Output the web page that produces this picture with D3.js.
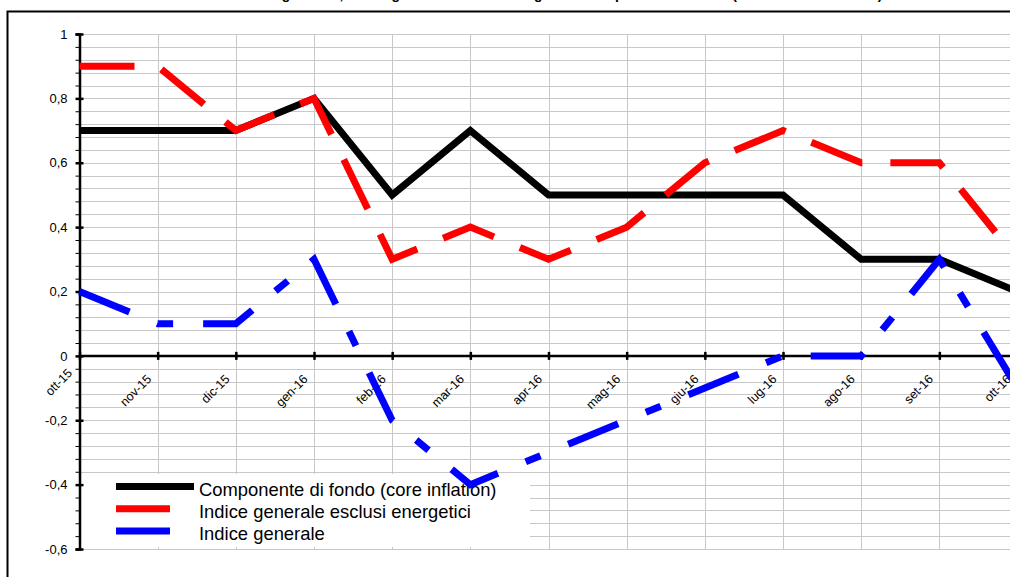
<!DOCTYPE html>
<html>
<head>
<meta charset="utf-8">
<script src="https://cdn.jsdelivr.net/npm/d3@7"></script>
<style>
  html, body { margin: 0; padding: 0; background: #fff; }
  svg { display: block; font-family: "Liberation Sans", Arial, sans-serif; }
</style>
</head>
<body>
<script>
// ---- data ----
const categories = ["ott-15","nov-15","dic-15","gen-16","feb-16","mar-16","apr-16","mag-16","giu-16","lug-16","ago-16","set-16","ott-16"];
const coreValues     = [0.7, 0.7, 0.7, 0.8, 0.5, 0.7, 0.5, 0.5, 0.5, 0.5, 0.3, 0.3, 0.2];
const exEnergyValues = [0.9, 0.9, 0.7, 0.8, 0.3, 0.4, 0.3, 0.4, 0.6, 0.7, 0.6, 0.6, 0.3];
const generalValues  = [0.2, 0.1, 0.1, 0.3, -0.2, -0.4, -0.3, -0.2, -0.1, 0.0, 0.0, 0.3, -0.1];
const seriesNames = ["Componente di fondo (core inflation)", "Indice generale esclusi energetici", "Indice generale"];
const yMajorTicks = [-0.6, -0.4, -0.2, 0, 0.2, 0.4, 0.6, 0.8, 1];
const titleText = "Indice generale, indice generale esclusi energetici e componente di fondo (variazioni tendenziali)";

const W = 1010, H = 577;
const svg = d3.select("body").append("svg").attr("width", W).attr("height", H);

const x = d3.scalePoint().domain(categories).range([79.5, 1017.5]);
const y = d3.scaleLinear().domain([-0.6, 1]).range([549, 34]);

const itLocale = d3.formatLocale({decimal: ",", thousands: ".", grouping: [3], currency: ["", ""], minus: "-"});
const fmt = itLocale.format("~g");

// title (mostly cut off at the top, as in the reference)
svg.append("text").attr("x", 560).attr("y", -1).attr("text-anchor", "middle")
  .attr("font-size", 14).attr("font-weight", "bold").text(titleText);

// outer frame
svg.append("rect").attr("x", 7.5).attr("y", 11.5).attr("width", 1100).attr("height", 700)
  .attr("fill", "none").attr("stroke", "#000").attr("stroke-width", 2);

// gridlines
const minor = d3.range(0, 41).map(i => +(-0.6 + i * 0.04).toFixed(2));
const grid = svg.append("g");
grid.selectAll("line.h").data(minor).join("line").attr("class", "h")
  .attr("x1", 79.5).attr("x2", W)
  .attr("y1", d => Math.round(y(d)) + 0.5).attr("y2", d => Math.round(y(d)) + 0.5)
  .attr("stroke", "#c8c8c8").attr("stroke-width", 1);
grid.selectAll("line.v").data(categories.slice(1)).join("line").attr("class", "v")
  .attr("x1", d => Math.round(x(d)) + 0.5).attr("x2", d => Math.round(x(d)) + 0.5)
  .attr("y1", y(1)).attr("y2", y(-0.6))
  .attr("stroke", "#c8c8c8").attr("stroke-width", 1);

// legend (drawn beneath the series)
const legend = svg.append("g");
legend.append("rect").attr("x", 81).attr("y", 474).attr("width", 449).attr("height", 73).attr("fill", "#fff");
const legColors = ["#000", "#ff0000", "#0000ff"];
const legLen = [78, 54, 54];
seriesNames.forEach((name, i) => {
  const cy = 486.5 + i * 22.3;
  legend.append("line").attr("x1", 116).attr("x2", 116 + legLen[i]).attr("y1", cy).attr("y2", cy)
    .attr("stroke", legColors[i]).attr("stroke-width", 7);
  legend.append("text").attr("x", 199).attr("y", 496 + i * 22).attr("font-size", 18.4).attr("fill", "#000").text(name);
});

// y axis
const yAxis = svg.append("g").attr("transform", "translate(79.5,0)")
  .call(d3.axisLeft(y).tickValues(yMajorTicks).tickSizeOuter(0).tickSize(4).tickPadding(8).tickFormat(fmt));
yAxis.select(".domain").attr("stroke", "#000").attr("stroke-width", 2.5);
yAxis.selectAll(".tick line").attr("x1", -4).attr("x2", 4).attr("stroke-width", 2.5);
yAxis.selectAll(".tick text").attr("font-size", 13).attr("font-family", "Liberation Sans, Arial, sans-serif").attr("fill", "#000");
svg.append("g").attr("transform", "translate(79.5,0)")
  .call(d3.axisLeft(y).tickValues(minor.filter(v => !yMajorTicks.some(m => Math.abs(m - v) < 1e-6))).tickSize(4).tickFormat(""))
  .call(g => g.select(".domain").remove())
  .selectAll(".tick line").attr("stroke", "#000").attr("stroke-width", 1);

// x axis at 0
const xAxis = svg.append("g").attr("transform", `translate(0,${y(0)})`)
  .call(d3.axisBottom(x).tickSizeOuter(0).tickSize(4));
xAxis.select(".domain").attr("d", `M79.5,0H${W}`).attr("stroke", "#000").attr("stroke-width", 2.5);
xAxis.selectAll(".tick line").attr("y1", -4).attr("y2", 4).attr("stroke-width", 2.5);
xAxis.selectAll(".tick text")
  .attr("font-size", 12.5).attr("font-family", "Liberation Sans, Arial, sans-serif").attr("fill", "#000")
  .attr("text-anchor", "end").attr("dy", null).attr("y", null)
  .attr("transform", (d, i) => i === 0 ? "translate(-7,18) rotate(-45)" : "translate(-6,24) rotate(-45)");

// series
const line = d3.line().x((d, i) => x(categories[i])).y(d => y(d)).curve(d3.curveLinear);
const series = [
  {values: coreValues, color: "#000", dash: null},
  {values: exEnergyValues, color: "#ff0000", dash: "55,28"},
  {values: generalValues, color: "#0000ff", dash: "54,30,16,30"}
];
series.forEach(s => {
  svg.append("path").datum(s.values).attr("d", line)
    .attr("fill", "none").attr("stroke", s.color).attr("stroke-width", 7)
    .attr("stroke-linejoin", "miter").attr("stroke-linecap", "butt")
    .attr("stroke-dasharray", s.dash);
});
</script>
</body>
</html>
